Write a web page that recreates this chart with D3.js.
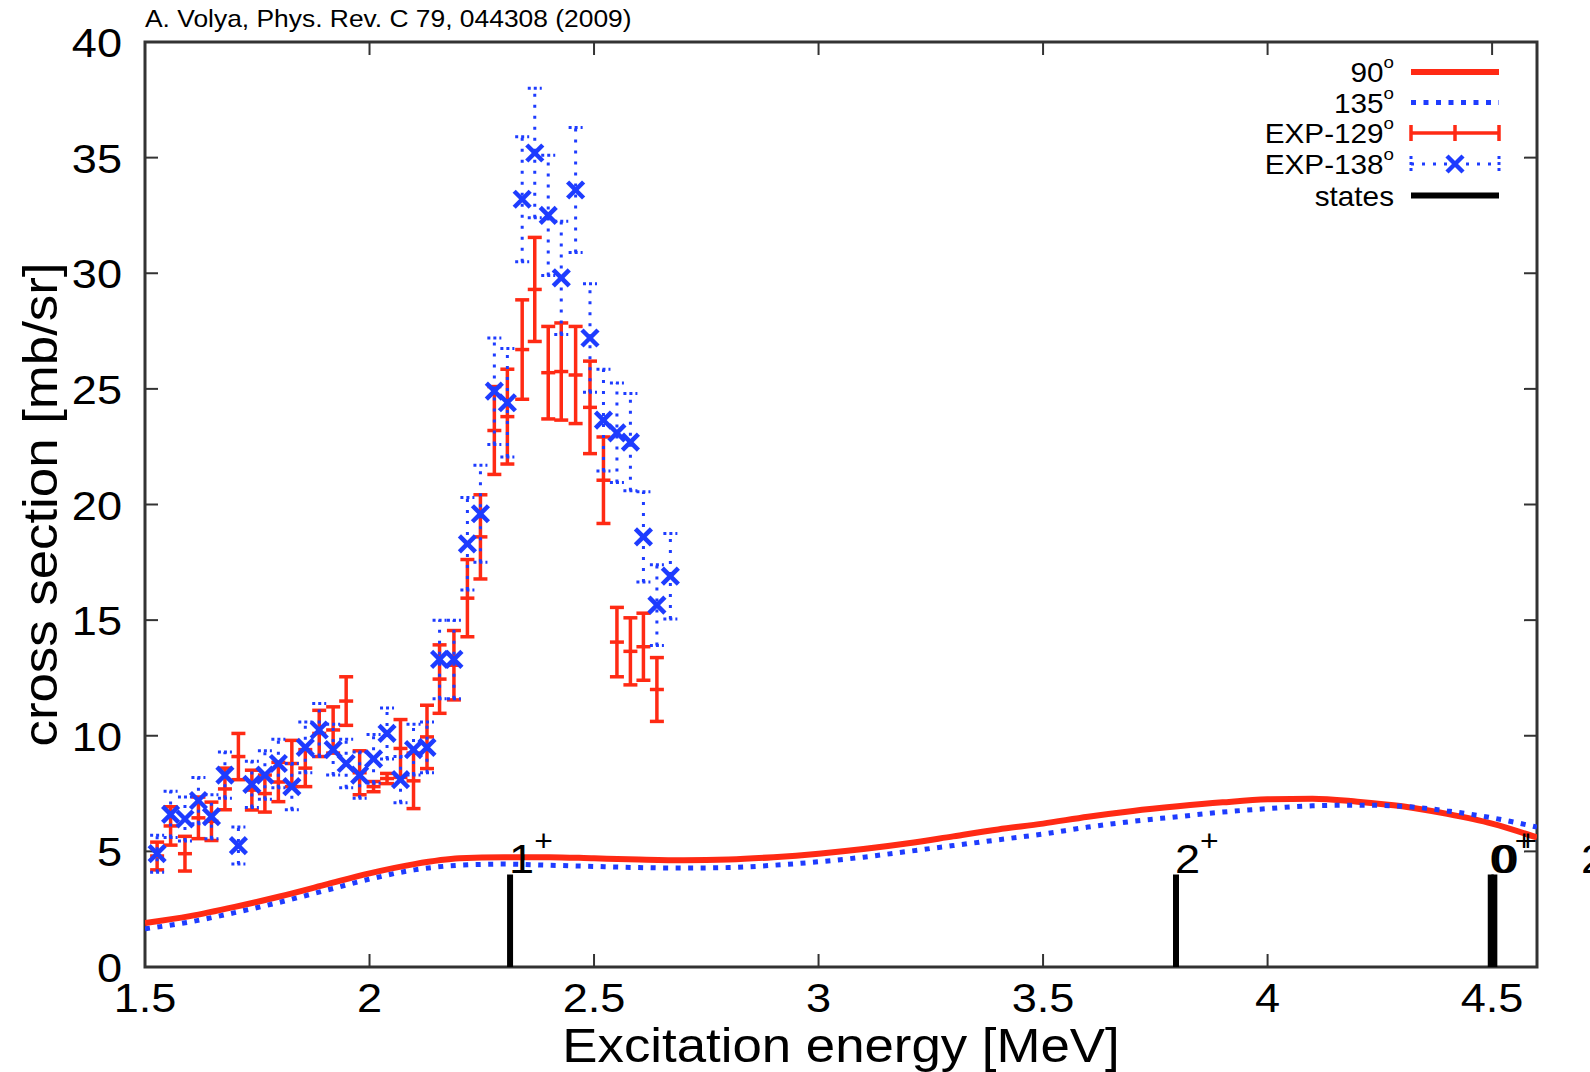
<!DOCTYPE html>
<html><head><meta charset="utf-8">
<script src="https://cdn.jsdelivr.net/npm/d3@7"></script>
<style>
body{margin:0;background:#fff}
text{font-family:"Liberation Sans",Arial,Helvetica,sans-serif;fill:#000}
</style>
</head><body>
<svg id="c" width="1590" height="1072"></svg>
<script>
// ---------------- data ----------------
const energies = [1.527,1.557,1.589,1.619,1.648,1.678,1.708,1.738,1.767,1.797,1.827,1.857,1.888,1.919,1.948,1.978,2.009,2.039,2.069,2.098,2.128,2.156,2.188,2.218,2.247,2.278,2.307,2.340,2.368,2.398,2.427,2.459,2.491,2.521,2.551,2.581,2.610,2.640,2.670];
const exp138 = [4.9,6.6,6.4,7.2,6.5,8.3,5.25,7.9,8.3,8.8,7.8,9.5,10.25,9.4,8.8,8.3,9.0,10.1,8.1,9.4,9.5,13.3,13.3,18.3,19.6,24.9,24.4,33.2,35.2,32.5,29.8,33.6,27.2,23.65,23.1,22.7,18.6,15.65,16.9];
const err138 = [0.8,1.0,0.95,1.0,0.95,1.0,0.8,1.0,1.05,1.05,1.0,1.1,1.15,1.1,1.05,1.0,1.05,1.1,1.0,1.1,1.1,1.7,1.7,2.0,2.1,2.3,2.35,2.7,2.8,2.6,2.45,2.7,2.35,2.2,2.15,2.1,1.95,1.75,1.85];
const exp129 = [4.8,6.1,4.9,6.45,6.3,7.7,9.1,7.65,7.5,8.0,8.8,8.6,10.1,10.25,11.5,8.4,7.8,8.15,9.45,8.05,9.95,12.45,13.05,15.95,18.6,23.2,23.8,26.7,29.3,25.7,25.75,25.6,24.2,21.05,14.05,13.65,13.85,12.0];
const err129 = [0.6,0.83,0.75,0.9,0.83,0.9,1.0,0.86,0.8,0.85,1.0,0.8,1.0,1.0,1.05,0.95,0.22,0.22,1.25,1.2,1.37,1.48,1.5,1.67,1.82,1.9,2.05,2.15,2.25,2.0,2.1,2.1,2.0,1.87,1.5,1.45,1.45,1.38];
const curveE = [1.5,1.6,1.7,1.8,1.9,2.0,2.1,2.2,2.3,2.4,2.5,2.6,2.7,2.8,2.9,3.0,3.1,3.2,3.3,3.4,3.5,3.6,3.7,3.8,3.9,4.0,4.1,4.2,4.3,4.4,4.5,4.6];
const theory90 = [1.9,2.2,2.6,3.05,3.55,4.05,4.45,4.7,4.75,4.75,4.7,4.65,4.62,4.65,4.75,4.9,5.1,5.35,5.65,5.95,6.2,6.5,6.75,6.95,7.12,7.25,7.28,7.15,6.95,6.62,6.2,5.6];
const theory135 = [1.65,1.95,2.35,2.8,3.3,3.8,4.2,4.4,4.45,4.4,4.35,4.3,4.28,4.3,4.4,4.55,4.75,5.0,5.25,5.5,5.75,6.05,6.3,6.5,6.7,6.85,6.97,7.0,6.95,6.75,6.45,6.05];
const stateE = [2.313,3.796,4.497,4.505,4.70];
const stateLabel = ["1","2","0","0","2"];
const stateParity = ["+","+","+","+","+"];
const stateHeight = 4;
const xTicks = [1.5,2,2.5,3,3.5,4,4.5];
const yTicks = [0,5,10,15,20,25,30,35,40];
const legendLabels = ["90","135","EXP-129","EXP-138","states"];
const legendDeg = [true,true,true,true,false];

// ---------------- layout ----------------
const L=145,R=1537,T=42,B=967;
const RED="#ff2a14", BLUE="#1e3cff", FRAME="#333";
const SX=1.1;
const svg=d3.select("#c");
const x=d3.scaleLinear().domain([1.5,4.6]).range([L,R]);
const y=d3.scaleLinear().domain([0,40]).range([B,T]);

function stext(parent,px,py,str,size,anchor,rot){
  const g=parent.append("g").attr("transform",`translate(${px},${py})${rot?` rotate(${rot})`:""} scale(${SX},1)`);
  const t=g.append("text").attr("font-size",size).attr("text-anchor",anchor||"start").text(str);
  return t;
}

svg.append("defs").append("clipPath").attr("id","clip").append("rect")
  .attr("x",L).attr("y",T).attr("width",R-L).attr("height",B-T);

// citation
stext(svg,L,27,"A. Volya, Phys. Rev. C 79, 044308 (2009)",24,"start");

// ticks (inside, mirrored)
const tk=svg.append("g").attr("stroke",FRAME).attr("stroke-width",2);
const TL=13;
xTicks.forEach(v=>{
  tk.append("line").attr("x1",x(v)).attr("x2",x(v)).attr("y1",B).attr("y2",B-TL);
  tk.append("line").attr("x1",x(v)).attr("x2",x(v)).attr("y1",T).attr("y2",T+TL);
});
yTicks.forEach(v=>{
  tk.append("line").attr("x1",L).attr("x2",L+TL).attr("y1",y(v)).attr("y2",y(v));
  tk.append("line").attr("x1",R).attr("x2",R-TL).attr("y1",y(v)).attr("y2",y(v));
});
// frame
svg.append("rect").attr("x",L).attr("y",T).attr("width",R-L).attr("height",B-T)
  .attr("fill","none").attr("stroke",FRAME).attr("stroke-width",3);

// tick labels
xTicks.forEach(v=>stext(svg,x(v),1012,String(v),41,"middle"));
yTicks.forEach(v=>stext(svg,122,y(v)+15,String(v),41,"end"));

// axis titles
stext(svg,(L+R)/2,1062,"Excitation energy [MeV]",48,"middle");
stext(svg,57,(T+B)/2,"cross section [mb/sr]",48,"middle",-90);

const plot=svg.append("g").attr("clip-path","url(#clip)");
const line=d3.line().x(d=>x(d[0])).y(d=>y(d[1])).curve(d3.curveMonotoneX);

// theory curves
plot.append("path").datum(curveE.map((e,i)=>[e,theory90[i]])).attr("d",line)
  .attr("fill","none").attr("stroke",RED).attr("stroke-width",6);
plot.append("path").datum(curveE.map((e,i)=>[e,theory135[i]])).attr("d",line)
  .attr("fill","none").attr("stroke",BLUE).attr("stroke-width",5).attr("stroke-dasharray","5,7.5");

// EXP-129 (red error bars with caps, + marks)
const CW=7;
const g129=plot.append("g").attr("stroke",RED).attr("stroke-width",3.5);
exp129.forEach((v,i)=>{
  const e=energies[i], xx=x(e), lo=y(v-err129[i]), hi=y(v+err129[i]);
  g129.append("line").attr("x1",xx).attr("x2",xx).attr("y1",lo).attr("y2",hi);
  g129.append("line").attr("x1",xx-CW).attr("x2",xx+CW).attr("y1",lo).attr("y2",lo);
  g129.append("line").attr("x1",xx-CW).attr("x2",xx+CW).attr("y1",hi).attr("y2",hi);
  g129.append("line").attr("x1",xx-7).attr("x2",xx+7).attr("y1",y(v)).attr("y2",y(v));
});

// EXP-138 (blue dotted error bars, x marks)
const g138=plot.append("g").attr("stroke",BLUE);
exp138.forEach((v,i)=>{
  const e=energies[i], xx=x(e), lo=y(v-err138[i]), hi=y(v+err138[i]);
  g138.append("line").attr("x1",xx).attr("x2",xx).attr("y1",lo).attr("y2",hi)
    .attr("stroke-width",3).attr("stroke-dasharray","3,8");
  [lo,hi].forEach(yy=>g138.append("line").attr("x1",xx-CW).attr("x2",xx+CW).attr("y1",yy).attr("y2",yy)
    .attr("stroke-width",3).attr("stroke-dasharray","3,3"));
  const s=8, yy=y(v);
  g138.append("line").attr("x1",xx-s).attr("x2",xx+s).attr("y1",yy-s).attr("y2",yy+s).attr("stroke-width",4.5);
  g138.append("line").attr("x1",xx-s).attr("x2",xx+s).attr("y1",yy+s).attr("y2",yy-s).attr("stroke-width",4.5);
});

// states
stateE.forEach((e,i)=>{
  plot.append("line").attr("x1",x(e)).attr("x2",x(e)).attr("y1",y(0)).attr("y2",y(stateHeight))
    .attr("stroke","#000").attr("stroke-width",6);
  const t=stext(svg,x(e)-1,y(4.08),"",41,"start");
  t.append("tspan").text(stateLabel[i]);
  t.append("tspan").attr("font-size",29).attr("dy",-22).text(stateParity[i]);
});

// legend
const rows=[72,102.5,133,164,195.5];
const lx1=1411,lx2=1499,ltx=1394;
legendLabels.forEach((lab,i)=>{
  const t=stext(svg,ltx,rows[i]+10,"",27,"end");
  t.append("tspan").text(lab);
  if(legendDeg[i]) t.append("tspan").attr("font-size",17).attr("dy",-14).text("o");
});
const lg=svg.append("g");
lg.append("line").attr("x1",lx1).attr("x2",lx2).attr("y1",rows[0]).attr("y2",rows[0]).attr("stroke",RED).attr("stroke-width",6);
lg.append("line").attr("x1",lx1).attr("x2",lx2).attr("y1",rows[1]).attr("y2",rows[1]).attr("stroke",BLUE).attr("stroke-width",5).attr("stroke-dasharray","5,7.5");
{
  const yy=rows[2], g=lg.append("g").attr("stroke",RED).attr("stroke-width",3.5);
  g.append("line").attr("x1",lx1).attr("x2",lx2).attr("y1",yy).attr("y2",yy);
  [lx1,lx2,(lx1+lx2)/2].forEach(xx=>g.append("line").attr("x1",xx).attr("x2",xx).attr("y1",yy-8).attr("y2",yy+8));
}
{
  const yy=rows[3], g=lg.append("g").attr("stroke",BLUE);
  g.append("line").attr("x1",lx1).attr("x2",lx2).attr("y1",yy).attr("y2",yy).attr("stroke-width",3).attr("stroke-dasharray","3,8");
  [lx1,lx2].forEach(xx=>g.append("line").attr("x1",xx).attr("x2",xx).attr("y1",yy-8).attr("y2",yy+8).attr("stroke-width",3).attr("stroke-dasharray","3,3"));
  const xx=(lx1+lx2)/2, s=8;
  g.append("line").attr("x1",xx-s).attr("x2",xx+s).attr("y1",yy-s).attr("y2",yy+s).attr("stroke-width",4.5);
  g.append("line").attr("x1",xx-s).attr("x2",xx+s).attr("y1",yy+s).attr("y2",yy-s).attr("stroke-width",4.5);
}
lg.append("line").attr("x1",lx1).attr("x2",lx2).attr("y1",rows[4]).attr("y2",rows[4]).attr("stroke","#000").attr("stroke-width",6);
</script>
</body></html>
